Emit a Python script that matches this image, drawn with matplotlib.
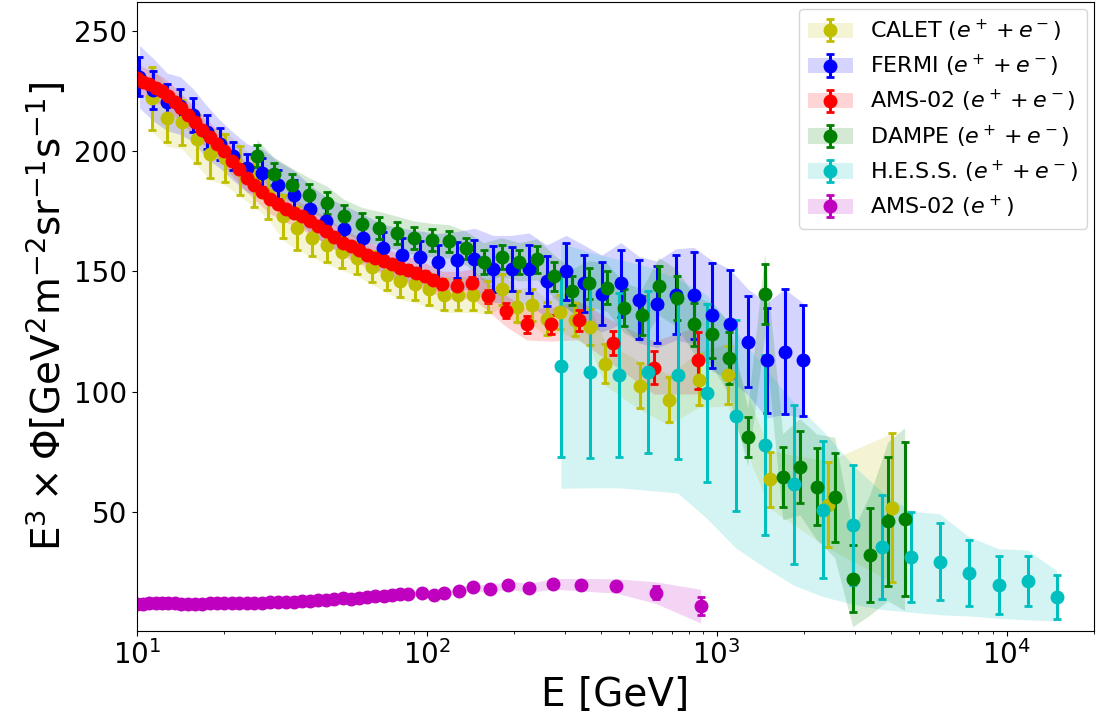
import numpy as np
import matplotlib.pyplot as plt

# CALET (e+ + e-)
calet_E = [11.3, 12.7, 14.3, 16.1, 17.9, 20.1, 22.7, 25.3, 28.3, 31.9,
           35.6, 40.1, 45.2, 50.9, 57.4, 64.6, 72.8, 80.7, 90.9, 102,
           115, 128, 144, 162, 181, 204, 230, 259, 287, 324,
           365, 411, 543, 683, 867, 1091, 1523, 2415, 4012]
calet_val = [222, 214, 212, 205, 199, 197, 192, 187, 182, 173,
             168, 164, 161, 158, 155.6, 152, 148.6, 146, 144.6, 142.5,
             140.4, 140.4, 140.4, 139.6, 142.5, 135.4, 136, 130.4, 133, 130,
             127, 111.7, 102.5, 96.7, 105, 107, 63.5, 53, 51.7]
calet_err = [13, 10, 9.5, 10, 10, 10, 10, 10, 10, 9,
             9, 7.5, 7, 6.5, 6.5, 6.5, 6.5, 6.5, 6.5, 6.5,
             6.5, 6.5, 6.5, 6.5, 6.5, 6.5, 6.5, 7, 7, 7,
             7.5, 8, 9.5, 9.5, 10.5, 12, 11.5, 17.7, 31]
calet_sys = [14, 12, 11, 11, 11, 11, 11, 10, 10, 10,
             9, 8, 8, 7.5, 7.5, 7.5, 7.5, 7.5, 7.5, 7.5,
             7.5, 7.5, 7.5, 7.5, 7.5, 7.5, 7.5, 8, 8, 8,
             8.5, 9, 10, 10.5, 11.5, 13, 12, 18, 31]

# FERMI (e+ + e-)
fermi_E = [10.2, 11.4, 12.7, 14.1, 15.6, 17.4, 19.3, 21.4, 24.0, 27.0,
           30.6, 34.8, 39.5, 44.9, 51.7, 60.2, 70.5, 82.0, 94.6, 109,
           127, 146, 169, 196, 225, 259, 302, 348, 401, 467,
           538, 621, 722, 833, 961, 1109, 1279, 1487, 1716, 1980]
fermi_val = [231, 225.5, 220.5, 219, 215, 208, 203, 198, 193, 191,
             186, 182, 176, 171, 167.5, 163.8, 159.6, 157, 155.8, 153.8,
             154.6, 155, 151, 151, 151, 146, 150, 145, 140.8, 145,
             138.3, 136.3, 140.4, 140, 131.7, 128, 120.8, 113, 116.7, 113]
fermi_err = [8, 8, 7.5, 7, 7, 7, 6.5, 6, 6, 6,
             6, 6, 6, 6, 6, 6.5, 7, 7, 7, 7,
             7.5, 8, 9.5, 9, 10, 10.5, 12, 12, 13, 14,
             16.5, 16, 16.5, 18, 22, 22.5, 19, 22, 26, 23]
fermi_sys = [13, 13, 12, 12, 11, 11, 10, 10, 10, 10,
             10, 10, 10, 10, 10, 10, 10, 11, 11, 12,
             12, 13, 14, 14, 15, 15, 15, 16, 16, 17,
             18, 18, 19, 20, 23, 23, 22, 24, 26, 24]

# AMS-02 (e+ + e-)
ams_E = [10.0, 10.5, 11.0, 11.6, 12.2, 12.8, 13.5, 14.2, 15.0, 15.9,
         16.8, 17.8, 18.9, 20.0, 21.2, 22.5, 23.9, 25.4, 27.0, 28.7,
         30.6, 32.6, 34.7, 37.0, 39.5, 42.2, 45.0, 48.0, 51.2, 54.6,
         58.3, 62.2, 66.4, 70.9, 75.7, 80.8, 86.3, 92.1, 98.5, 105,
         113, 127, 143, 162, 187, 221, 268, 334, 438, 607, 859]
ams_val = [230.5, 229, 228, 226.5, 225, 223, 220.5, 218, 215, 212,
           209, 206, 203, 200, 196, 192.5, 189, 186, 183, 180,
           178, 176, 174.5, 173, 171, 169, 167, 164.5, 162, 160.5,
           159, 157, 155.5, 154.5, 153, 151.5, 150.5, 149.5, 148, 146.5,
           144.6, 144, 145, 139.6, 133.7, 128, 128, 129.6, 120.4, 110, 113]
ams_err = [1.0, 1.0, 1.0, 1.0, 1.0, 1.0, 1.0, 1.0, 1.0, 1.0,
           1.0, 1.1, 1.1, 1.1, 1.1, 1.1, 1.2, 1.2, 1.2, 1.2,
           1.3, 1.3, 1.3, 1.4, 1.4, 1.4, 1.5, 1.5, 1.5, 1.6,
           1.6, 1.7, 1.7, 1.8, 1.8, 1.9, 2.0, 2.0, 2.1, 2.2,
           2.3, 2.5, 2.6, 2.8, 3.1, 3.5, 4.0, 4.5, 5.0, 7.0, 12.0]
ams_sys = [6, 6, 6, 6, 6, 6, 6, 6, 6, 6,
           6, 6, 6, 6, 6, 6, 6, 6, 6, 6,
           5.5, 5.5, 5.5, 5.5, 5.5, 5.5, 5.5, 5.5, 5.5, 5.5,
           5.5, 5.5, 5.5, 5.5, 5.5, 5.5, 5.5, 5.5, 5.5, 5.5,
           5.5, 6, 6, 6, 6.5, 6.5, 7, 8, 9, 11, 14]

# DAMPE (e+ + e-)
dampe_E = [25.9, 29.7, 34.2, 39.2, 45.2, 51.7, 59.7, 68.3, 78.8, 90.2,
           104, 119, 137, 157, 181, 208, 240, 274, 316, 362,
           418, 478, 551, 631, 728, 833, 961, 1100, 1279, 1464,
           1689, 1933, 2212, 2552, 2944, 3370, 3888, 4449]
dampe_val = [197.9, 190.5, 186, 182, 178.5, 173, 169.6, 168, 166, 164,
             163, 162.5, 159.6, 154, 156, 154, 155, 148, 142, 145,
             143.3, 135, 131.7, 143.8, 139, 128, 123.8, 114, 81, 140.5,
             64.6, 68.8, 60.4, 56, 22.2, 32, 46, 47]
dampe_err = [4.5, 4.5, 4.5, 4.5, 4.5, 4.5, 4.5, 4.5, 4.5, 4.5,
             4.5, 4.5, 4.5, 5, 5, 5, 5.5, 6, 6, 6.5,
             7, 7.5, 8, 8.5, 9, 9, 9.7, 11, 8.3, 12.5,
             12.5, 15, 16, 18.4, 14, 19.4, 26.7, 32]
dampe_sys = [7, 7, 7, 7, 7, 7, 7, 7, 7, 7,
             7, 7, 7, 8, 8, 8, 8.5, 9, 9, 9.5,
             10, 10.5, 11, 12, 12, 12, 13, 15, 12, 17,
             18, 20, 22, 25, 20, 25, 33, 38]

# H.E.S.S. (e+ + e-)
hess_E = [290, 365, 459, 578, 734, 924, 1163, 1464, 1843, 2320,
          2944, 3707, 4667, 5875, 7396, 9385, 11815, 14873]
hess_val = [110.8, 108, 107, 108, 106.8, 99.3, 90, 77.9, 61.5, 50.8,
            44.6, 35.4, 31.3, 29.2, 24.7, 19.7, 21.1, 14.6]
hess_err = [38, 35.4, 34, 33.7, 34.7, 37, 39.6, 37.5, 33, 28.5,
            25, 21.5, 18.8, 16, 13.8, 12, 10.4, 9]
hess_sys_lo = [51, 48, 47, 49, 49, 52, 55, 51, 42, 36,
               33, 26, 23, 22, 18, 14, 16, 10]
hess_sys_hi = [51, 50, 48, 44, 40, 41, 35, 32, 34, 33,
               25, 23, 19, 20, 15, 15, 13, 11]

# AMS-02 (e+)
pos_E = [10.0, 10.5, 11.0, 11.6, 12.2, 12.8, 13.5, 14.2, 15.0, 15.9,
         16.8, 17.8, 18.9, 20.0, 21.2, 22.5, 23.9, 25.4, 27.0, 28.7,
         30.6, 32.6, 34.7, 37.0, 39.5, 42.2, 45.0, 48.0, 51.2, 54.6,
         58.3, 62.2, 66.4, 70.9, 75.7, 80.8, 86.3,
         96, 106, 115, 129, 144, 165, 190, 225, 272, 340, 449, 616, 880]
pos_val = [11.8, 11.8, 11.9, 11.9, 11.9, 11.9, 11.9, 11.8, 11.8, 11.8,
           11.8, 11.9, 11.9, 12.0, 12.0, 12.1, 12.2, 12.2, 12.3, 12.4,
           12.5, 12.6, 12.7, 12.9, 13.0, 13.2, 13.4, 13.6, 14.2, 13.9,
           14.3, 14.6, 15.2, 14.9, 15.6, 15.9, 15.7,
           16.4, 15.4, 16.2, 17.0, 18.8, 17.9, 19.6, 18.3, 20.1, 19.7, 19.2, 16.4, 10.8]
pos_err = [0.2, 0.2, 0.2, 0.2, 0.2, 0.2, 0.2, 0.2, 0.2, 0.2,
           0.2, 0.2, 0.2, 0.2, 0.2, 0.2, 0.2, 0.2, 0.3, 0.3,
           0.3, 0.3, 0.3, 0.3, 0.3, 0.3, 0.4, 0.4, 0.4, 0.4,
           0.4, 0.5, 0.5, 0.5, 0.5, 0.6, 0.6,
           0.6, 0.6, 0.7, 0.7, 0.8, 0.8, 0.9, 1.0, 1.1, 1.3, 1.8, 2.6, 3.8]
pos_sys = [0.5, 0.5, 0.5, 0.5, 0.5, 0.5, 0.5, 0.5, 0.5, 0.5,
           0.5, 0.5, 0.5, 0.5, 0.5, 0.5, 0.5, 0.5, 0.5, 0.5,
           0.6, 0.6, 0.6, 0.6, 0.6, 0.6, 0.7, 0.7, 0.7, 0.7,
           0.8, 0.8, 0.8, 0.9, 0.9, 1.0, 1.0,
           1.1, 1.1, 1.2, 1.3, 1.4, 1.5, 1.7, 1.9, 2.2, 2.6, 3.0, 4.5, 7.0]


fig, ax = plt.subplots(figsize=(10.96, 7.21), dpi=100)


def draw(E, val, err, lo, hi, color):
    E = np.array(E)
    val = np.array(val)
    band = ax.fill_between(E, val - np.array(lo), val + np.array(hi),
                           color=color, alpha=0.17, linewidth=0)
    eb = ax.errorbar(E, val, yerr=err, fmt='o', color=color, ms=9,
                     elinewidth=2.2, capsize=3, capthick=2)
    return (band, eb)


handles = [
    draw(calet_E, calet_val, calet_err, calet_sys, calet_sys, 'y'),
    draw(fermi_E, fermi_val, fermi_err, fermi_sys, fermi_sys, 'b'),
    draw(ams_E, ams_val, ams_err, ams_sys, ams_sys, 'r'),
    draw(dampe_E, dampe_val, dampe_err, dampe_sys, dampe_sys, 'g'),
    draw(hess_E, hess_val, hess_err, hess_sys_lo, hess_sys_hi, 'c'),
    draw(pos_E, pos_val, pos_err, pos_sys, pos_sys, 'm'),
]
labels = [r'CALET ($e^+ + e^-$)', r'FERMI ($e^+ + e^-$)', r'AMS-02 ($e^+ + e^-$)',
          r'DAMPE ($e^+ + e^-$)', r'H.E.S.S. ($e^+ + e^-$)', r'AMS-02 ($e^+$)']

ax.set_xscale('log')
ax.set_xlim(10, 2e4)
ax.set_ylim(0.5, 262)
ax.set_xlabel('E [GeV]', fontsize=28)
ax.set_ylabel(r'E$^3\times\Phi$[GeV$^2$m$^{-2}$sr$^{-1}$s$^{-1}$]', fontsize=28)
ax.tick_params(labelsize=20)
ax.legend(handles, labels, loc='upper right', fontsize=16, borderaxespad=0.3,
          labelspacing=0.4)

fig.subplots_adjust(left=0.125, right=0.998, top=0.997, bottom=0.125)
fig.savefig('out.png', dpi=100)
